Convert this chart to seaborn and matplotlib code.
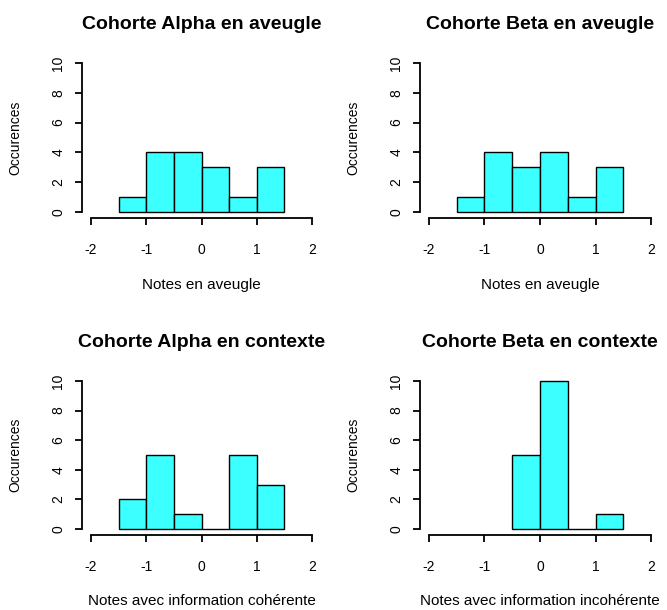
import numpy as np
import pandas as pd
import matplotlib
matplotlib.use("Agg")
import matplotlib.pyplot as plt
import seaborn as sns

centres_ab = [-1.25, -0.75, -0.25, 0.25, 0.75, 1.25]
alpha_aveugle = [1, 4, 4, 3, 1, 3]
beta_aveugle = [1, 4, 3, 4, 1, 3]
alpha_contexte = [2, 5, 1, 0, 5, 3]
centres_bc = [-0.25, 0.25, 0.75, 1.25]
beta_contexte = [5, 10, 0, 1]

titres = ["Cohorte Alpha en aveugle", "Cohorte Beta en aveugle",
          "Cohorte Alpha en contexte", "Cohorte Beta en contexte"]
xlabels = ["Notes en aveugle", "Notes en aveugle",
           "Notes avec information cohérente", "Notes avec information incohérente"]

sns.set_style("white")
plt.rcParams['font.family'] = ['Liberation Sans', 'DejaVu Sans']
plt.rcParams['text.color'] = 'black'
plt.rcParams['axes.labelcolor'] = 'black'
plt.rcParams['xtick.color'] = 'black'
plt.rcParams['ytick.color'] = 'black'
plt.rcParams['axes.unicode_minus'] = False

W, H = 667, 610
fig = plt.figure(figsize=(W / 100, H / 100), dpi=100)

# positions des axes en pixels (gauche, haut, droite, bas)
boites = [(82, 57, 321, 218), (420, 57, 660, 218),
          (82, 375, 321, 535), (420, 375, 660, 535)]
series = [(centres_ab, alpha_aveugle), (centres_ab, beta_aveugle),
          (centres_ab, alpha_contexte), (centres_bc, beta_contexte)]

for i, (g, t, d, b) in enumerate(boites):
    ax = fig.add_axes([g / W, (H - b) / H, (d - g) / W, (b - t) / H])
    x, n = series[i]
    df = pd.DataFrame({"note": x, "n": n})
    bords = [round(c - 0.25, 2) for c in x] + [round(x[-1] + 0.25, 2)]
    sns.histplot(data=df, x="note", weights="n", bins=bords, ax=ax,
                 color="#3CFFFF", alpha=1, edgecolor="black", linewidth=1)
    ax.set_xlim(-2.16, 2.16)
    ax.set_ylim(-0.4, 10.4)
    ax.set_xticks([-2, -1, 0, 1, 2])
    ax.set_yticks([0, 2, 4, 6, 8, 10])
    for s in ["top", "right"]:
        ax.spines[s].set_visible(False)
    ax.spines["left"].set_bounds(0, 10)
    ax.spines["bottom"].set_bounds(-2, 2)
    for s in ["left", "bottom"]:
        ax.spines[s].set_color("black")
        ax.spines[s].set_linewidth(1.3)
    ax.tick_params(axis="both", direction="out", length=5, width=1.3,
                   labelsize=10, left=True, bottom=True)
    ax.tick_params(axis="x", pad=13)
    ax.tick_params(axis="y", pad=7)
    plt.setp(ax.get_yticklabels(), rotation=90, va="center")
    ax.set_xlabel(xlabels[i], fontsize=11)
    ax.xaxis.set_label_coords(0.5, -0.37)
    ax.set_ylabel("Occurences", fontsize=10)
    ax.yaxis.set_label_coords(-0.25, 0.5)
    ax.set_title(titres[i], fontsize=14, fontweight="bold", y=1.15, va="center")

fig.savefig("out.png", dpi=100)
